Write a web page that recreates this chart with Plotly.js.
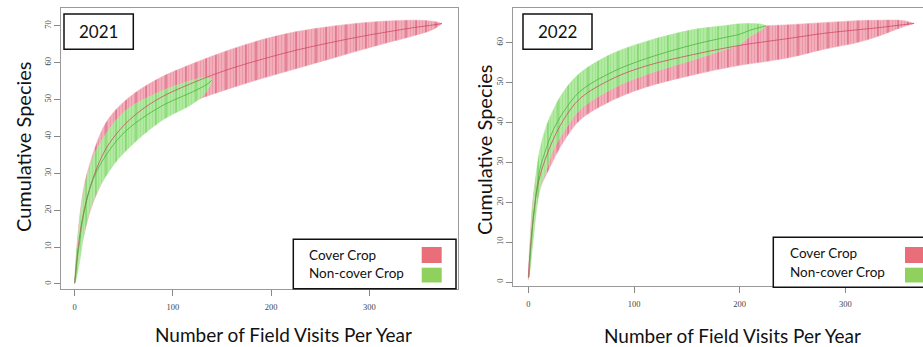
<!DOCTYPE html>
<html>
<head>
<meta charset="utf-8">
<script src="https://cdn.plot.ly/plotly-3.0.1.min.js"></script>
<style>
html,body{margin:0;padding:0;background:#fff;}
#chart{width:923px;height:347px;}
</style>
</head>
<body>
<div id="chart"></div>
<script>
// ---------- DATA ----------
// 2021 - Cover Crop
const visits2021Cover = [0, 2, 5, 10, 16, 25, 35, 55, 84, 121, 158, 192, 226, 260, 294, 320, 348, 365, 374];
const mean2021Cover   = [0.2, 6, 13, 20.5, 26.5, 33, 38, 44.3, 50, 54.6, 58.3, 61, 63.4, 65.4, 67.2, 68.4, 69.6, 70.2, 70.6];
const upper2021Cover  = [0.5, 9, 18, 27, 33, 40, 45, 50.5, 55.5, 59.8, 63.5, 66.3, 68.4, 69.8, 70.8, 71.3, 71.5, 71.2, 70.6];
const lower2021Cover  = [0, 3, 8, 14, 20, 26, 31, 38, 44.5, 49.5, 53, 55.8, 58.4, 61, 63.6, 65.5, 67.5, 69, 70.6];
// 2021 - Non-cover Crop
const visits2021Non = [0, 2, 5, 9, 19, 36, 53, 87, 121, 134, 140];
const mean2021Non   = [0.5, 5.5, 11.5, 18.7, 28.6, 36.5, 41.7, 48, 52.2, 54, 55.3];
const upper2021Non  = [1, 9, 17, 24.6, 34.5, 42.2, 47.2, 52.1, 55.3, 56, 55.3];
const lower2021Non  = [0, 2, 6, 12.8, 22.8, 30.9, 36.3, 44, 49, 52, 55.3];
// 2022 - Cover Crop
const visits2022Cover = [0, 2, 5, 10, 20, 33, 49, 80, 112, 156, 200, 226, 248, 279, 311, 330, 355, 365];
const mean2022Cover   = [1, 8.5, 17, 25.5, 33.5, 40.5, 46, 51, 54.2, 57, 59.3, 60.3, 61.1, 62.3, 63.2, 63.7, 64.5, 64.8];
const upper2022Cover  = [1.5, 12, 22, 30, 39.5, 46, 51.5, 56.5, 59.3, 61.6, 63.5, 64.2, 64.5, 65, 65.5, 65.6, 65.5, 64.8];
const lower2022Cover  = [0.5, 5.5, 12, 22.5, 28.5, 35, 40.6, 45.6, 48.9, 51.9, 54.3, 55.3, 56.3, 58.3, 60, 61.5, 64, 64.8];
// 2022 - Non-cover Crop
const visits2022Non = [0.7, 2.9, 4.5, 10.8, 17, 23.4, 32.8, 48.6, 80, 111.6, 155, 184.5, 200, 209.7, 220.8, 225];
const mean2022Non   = [1.3, 10.3, 15, 28, 33.5, 38, 42.4, 47.7, 52.7, 56, 59.4, 61.2, 62.1, 63.1, 63.9, 64.2];
const upper2022Non  = [1.3, 14.7, 20, 33, 39, 43, 47.5, 52.3, 57.3, 60.3, 63.2, 64.2, 64.7, 64.8, 64.6, 64.2];
const lower2022Non  = [1.3, 6, 10.5, 23, 28, 33, 37.3, 43.1, 48.5, 52, 55.6, 58.1, 59.5, 61.5, 63.2, 64.2];

const panelTitles = ["2021", "2022"];
const seriesNames = ["Cover Crop", "Non-cover Crop"];
const xTickVals = [0, 100, 200, 300];
const yTickVals2021 = [0, 10, 20, 30, 40, 50, 60, 70];
const yTickVals2022 = [0, 10, 20, 30, 40, 50, 60];
const xTitle = "Number of Field Visits Per Year";
const yTitle = "Cumulative Species";

// ---------- STYLE ----------
const W = 923, H = 347;
const RED = {bg: "#f3aebb", fine: "#eb98a8", dark: "#d65a75", line: "rgba(205,60,90,0.7)", swatch: "#e86f79"};
const GRN = {bg: "#b3eaa3", fine: "#a0e28e", dark: "#72cf5c", line: "rgba(70,175,60,0.75)", swatch: "#8fd05e"};
const PX = p => p / W;
const PY = p => 1 - p / H;

function band(xs, up, lo, col, xa, ya) {
  const bx = xs.concat(xs.slice().reverse());
  const by = up.concat(lo.slice().reverse());
  return [
    {type: "scatter", mode: "lines", x: bx, y: by, xaxis: xa, yaxis: ya, fill: "toself",
     line: {width: 0.6, color: col.bg, shape: "spline", smoothing: 1}, fillcolor: col.bg,
     fillpattern: {shape: "|", size: 3, solidity: 0.35, fgcolor: col.fine, bgcolor: col.bg},
     hoverinfo: "skip", showlegend: false},
    {type: "scatter", mode: "lines", x: bx, y: by, xaxis: xa, yaxis: ya, fill: "toself",
     line: {width: 0, shape: "spline", smoothing: 1}, fillcolor: "rgba(0,0,0,0)",
     fillpattern: {shape: "|", size: 10, solidity: 0.1, fgcolor: col.dark, bgcolor: "rgba(0,0,0,0)"},
     hoverinfo: "skip", showlegend: false}
  ];
}
function meanLine(xs, ys, col, xa, ya) {
  return {type: "scatter", mode: "lines", x: xs, y: ys, xaxis: xa, yaxis: ya,
          line: {width: 1, color: col.line, shape: "spline", smoothing: 1}, hoverinfo: "skip", showlegend: false};
}

const traces = [].concat(
  band(visits2021Cover, upper2021Cover, lower2021Cover, RED, "x", "y"),
  band(visits2021Non, upper2021Non, lower2021Non, GRN, "x", "y"),
  [meanLine(visits2021Cover, mean2021Cover, RED, "x", "y"),
   meanLine(visits2021Non, mean2021Non, GRN, "x", "y")],
  band(visits2022Cover, upper2022Cover, lower2022Cover, RED, "x2", "y2"),
  band(visits2022Non, upper2022Non, lower2022Non, GRN, "x2", "y2"),
  [meanLine(visits2022Cover, mean2022Cover, RED, "x2", "y2"),
   meanLine(visits2022Non, mean2022Non, GRN, "x2", "y2")]
);

const tickFont = {family: "Liberation Serif, serif", size: 8.5, color: "#444"};
const axBase = {ticks: "outside", ticklen: 6, tickcolor: "#888", tickwidth: 1,
  showline: true, linecolor: "#9a9a9a", linewidth: 1, showgrid: false, zeroline: false,
  tickfont: tickFont, fixedrange: true};

const layout = {
  width: W, height: H, margin: {l: 0, r: 0, t: 0, b: 0},
  paper_bgcolor: "#fff", plot_bgcolor: "#fff",
  xaxis: Object.assign({}, axBase, {domain: [PX(61), PX(458)], range: [-13.95, 390.3],
    tickvals: xTickVals, mirror: true, anchor: "y", ticklabelstandoff: 4}),
  yaxis: Object.assign({}, axBase, {domain: [PY(289), PY(8)], range: [-1.36, 74.8],
    tickvals: yTickVals2021, tickangle: -90, mirror: true, anchor: "x"}),
  xaxis2: Object.assign({}, axBase, {domain: [PX(513), 1], range: [-14.47, 373.4],
    tickvals: xTickVals, mirror: true, anchor: "y2", ticklabelstandoff: 4}),
  yaxis2: Object.assign({}, axBase, {domain: [PY(286), PY(8)], range: [-1.0, 68.67],
    tickvals: yTickVals2022, tickangle: -90, mirror: false, anchor: "x2"}),
  shapes: [],
  annotations: []
};

const titleFont = {family: "Lato, 'Open Sans', sans-serif", color: "#111"};
// axis titles
layout.annotations.push(
  {xref: "paper", yref: "paper", x: PX(23), y: PY(147), text: yTitle, showarrow: false, textangle: -90,
   xanchor: "center", yanchor: "middle", font: Object.assign({size: 20}, titleFont)},
  {xref: "paper", yref: "paper", x: PX(484), y: PY(150), text: yTitle, showarrow: false, textangle: -90,
   xanchor: "center", yanchor: "middle", font: Object.assign({size: 20}, titleFont)},
  {xref: "paper", yref: "paper", x: PX(283), y: PY(334), text: xTitle, showarrow: false,
   xanchor: "center", yanchor: "middle", font: Object.assign({size: 19}, titleFont)},
  {xref: "paper", yref: "paper", x: PX(732), y: PY(335), text: xTitle, showarrow: false,
   xanchor: "center", yanchor: "middle", font: Object.assign({size: 19}, titleFont)}
);

// year boxes
const yearBoxes = [{x0: 64, x1: 133.3}, {x0: 523, x1: 592}];
yearBoxes.forEach((b, i) => {
  layout.shapes.push({type: "rect", xref: "paper", yref: "paper", x0: PX(b.x0), x1: PX(b.x1),
    y0: PY(49.3), y1: PY(14), line: {color: "#111", width: 1.5}, fillcolor: "#fff"});
  layout.annotations.push({xref: "paper", yref: "paper", x: PX((b.x0 + b.x1) / 2), y: PY(32),
    text: panelTitles[i], showarrow: false, xanchor: "center", yanchor: "middle",
    font: Object.assign({size: 17}, titleFont)});
});

// legends
const legends = [
  {x0: 293.3, x1: 456, y0: 239.3, y1: 288.7, tx: 306.7, ty: [255, 273], sx: 421.7},
  {x0: 773.3, x1: 945, y0: 237.3, y1: 287.3, tx: 788.3, ty: [253, 272], sx: 905}
];
legends.forEach(L => {
  layout.shapes.push({type: "rect", xref: "paper", yref: "paper", x0: PX(L.x0), x1: PX(L.x1),
    y0: PY(L.y1), y1: PY(L.y0), line: {color: "#111", width: 1.5}, fillcolor: "#fff"});
  const sw = [{c: RED.swatch, t: 247, b: 263}, {c: GRN.swatch, t: 267.7, b: 282.5}];
  sw.forEach((s, k) => {
    layout.shapes.push({type: "rect", xref: "paper", yref: "paper", x0: PX(L.sx), x1: PX(L.sx + 20),
      y0: PY(s.b), y1: PY(s.t), line: {width: 0}, fillcolor: s.c});
    layout.annotations.push({xref: "paper", yref: "paper", x: PX(L.tx), y: PY(L.ty[k]),
      text: seriesNames[k], showarrow: false, xanchor: "left", yanchor: "middle",
      font: Object.assign({size: 13.5}, titleFont)});
  });
});

Plotly.newPlot("chart", traces, layout, {displayModeBar: false, staticPlot: true});
</script>
</body>
</html>
